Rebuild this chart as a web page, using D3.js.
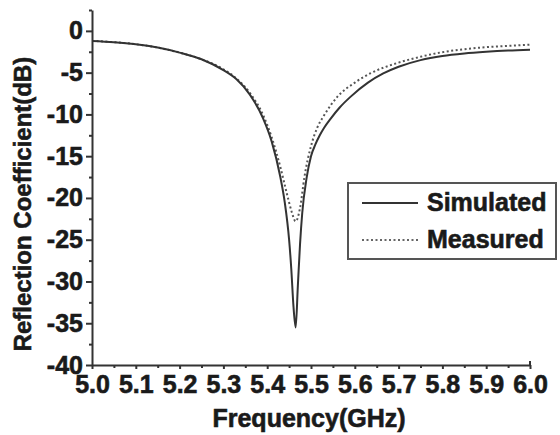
<!DOCTYPE html>
<html>
<head>
<meta charset="utf-8">
<script src="https://cdn.jsdelivr.net/npm/d3@7"></script>
<style>
  body { margin: 0; background: #fff; }
  text { font-family: "Liberation Sans", Arial, sans-serif; font-weight: bold; fill: #1a1a1a; stroke: #1a1a1a; stroke-width: 0.6px; }
</style>
</head>
<body>
<div id="chart"></div>
<script>
// data
const simFreq = [5.00, 5.05, 5.10, 5.15, 5.20, 5.25, 5.30, 5.33, 5.36, 5.39, 5.41, 5.43, 5.44, 5.45, 5.455, 5.46, 5.465, 5.47, 5.475, 5.48, 5.49, 5.50, 5.51, 5.52, 5.53, 5.545, 5.565, 5.59, 5.63, 5.665, 5.70, 5.75, 5.80, 5.85, 5.90, 5.95, 6.00];
const simDb = [-1.2, -1.35, -1.6, -2.0, -2.6, -3.4, -4.7, -5.8, -7.6, -10.4, -13.2, -17.5, -20.5, -25, -28.5, -33, -35.5, -30.5, -25.5, -21.8, -17.6, -15.0, -13.6, -12.5, -11.6, -10.5, -9.2, -7.9, -6.2, -5.1, -4.3, -3.5, -3.0, -2.7, -2.5, -2.35, -2.25];

const measFreq = [5.00, 5.05, 5.10, 5.15, 5.20, 5.25, 5.30, 5.33, 5.36, 5.39, 5.41, 5.43, 5.445, 5.455, 5.465, 5.475, 5.485, 5.50, 5.515, 5.53, 5.56, 5.60, 5.635, 5.70, 5.75, 5.80, 5.85, 5.90, 5.95, 6.00];
const measDb = [-1.2, -1.35, -1.6, -2.0, -2.6, -3.4, -4.6, -5.7, -7.4, -10.0, -12.7, -16.3, -19.5, -21.5, -22.8, -21.2, -17.5, -13.8, -11.5, -10.1, -7.9, -6.2, -5.1, -3.8, -3.1, -2.55, -2.2, -1.95, -1.8, -1.65];

const xTicks = [5.0, 5.1, 5.2, 5.3, 5.4, 5.5, 5.6, 5.7, 5.8, 5.9, 6.0];
const xMinor = [5.05, 5.15, 5.25, 5.35, 5.45, 5.55, 5.65, 5.75, 5.85, 5.95];
const yTicks = [0, -5, -10, -15, -20, -25, -30, -35, -40];
const yMinor = [2.5, -2.5, -7.5, -12.5, -17.5, -22.5, -27.5, -32.5, -37.5];

const seriesNames = ["Simulated", "Measured"];

const W = 560, H = 435;
const margin = {top: 10, right: 30, bottom: 70, left: 92};

const svg = d3.select("#chart").append("svg")
  .attr("width", W).attr("height", H);

const x = d3.scaleLinear().domain([5, 6]).range([margin.left, W - margin.right]);
const y = d3.scaleLinear().domain([-40, 2.5]).range([H - margin.bottom, margin.top]);

const axisColor = "#333";

// x axis
svg.append("g").attr("transform", `translate(0,${y(-40)})`)
  .call(d3.axisBottom(x).tickValues(xTicks).tickSize(4).tickSizeOuter(0).tickPadding(6)
    .tickFormat(d3.format(".1f")));
svg.append("g").attr("transform", `translate(0,${y(-40)})`)
  .call(d3.axisBottom(x).tickValues(xMinor).tickSize(3).tickFormat(""))
  .select(".domain").remove();

// y axis
svg.append("g").attr("transform", `translate(${x(5)},0)`)
  .call(d3.axisLeft(y).tickValues(yTicks).tickSize(6).tickSizeOuter(0).tickPadding(3)
    .tickFormat(d => String(d)));
svg.append("g").attr("transform", `translate(${x(5)},0)`)
  .call(d3.axisLeft(y).tickValues(yMinor).tickSize(3).tickFormat(""))
  .select(".domain").remove();

svg.selectAll(".domain, .tick line").attr("stroke", axisColor).attr("stroke-width", 2);
svg.selectAll(".tick text").attr("font-size", 25).attr("fill", "#1a1a1a")
  .style("font-family", "'Liberation Sans', Arial, sans-serif").style("font-weight", "bold");

// small end hook on the right of the x axis
svg.append("line")
  .attr("x1", x(6)).attr("x2", x(6))
  .attr("y1", y(-40)).attr("y2", y(-40) - 4)
  .attr("stroke", axisColor).attr("stroke-width", 2);

// titles
svg.append("text")
  .attr("x", (x(5) + x(6)) / 2 - 2).attr("y", 427)
  .attr("text-anchor", "middle").attr("font-size", 25)
  .text("Frequency(GHz)");

svg.append("text")
  .attr("transform", `translate(31,204) rotate(-90)`)
  .attr("text-anchor", "middle").attr("font-size", 24)
  .text("Reflection Coefficient(dB)");

// curves
const line = d3.line()
  .x(d => x(d[0])).y(d => y(d[1]))
  .curve(d3.curveMonotoneX);

const simData = simFreq.map((f, i) => [f, simDb[i]]);
const measData = measFreq.map((f, i) => [f, measDb[i]]);

svg.append("path").datum(measData)
  .attr("d", line).attr("fill", "none")
  .attr("stroke", "#555").attr("stroke-width", 2)
  .attr("stroke-dasharray", "2,2.5");

svg.append("path").datum(simData)
  .attr("d", line).attr("fill", "none")
  .attr("stroke", "#333").attr("stroke-width", 2);

// legend
const lg = svg.append("g").attr("transform", "translate(348,183)");
lg.append("rect").attr("width", 208).attr("height", 76)
  .attr("fill", "#fff").attr("stroke", "#555").attr("stroke-width", 2);
seriesNames.forEach((name, i) => {
  const yy = 20 + i * 37;
  lg.append("line")
    .attr("x1", 14).attr("x2", 70).attr("y1", yy).attr("y2", yy)
    .attr("stroke", i === 0 ? "#333" : "#666").attr("stroke-width", 2)
    .attr("stroke-dasharray", i === 0 ? null : "2,2.5");
  lg.append("text").attr("x", 79).attr("y", yy + 8)
    .attr("font-size", 25).text(name);
});
</script>
</body>
</html>
